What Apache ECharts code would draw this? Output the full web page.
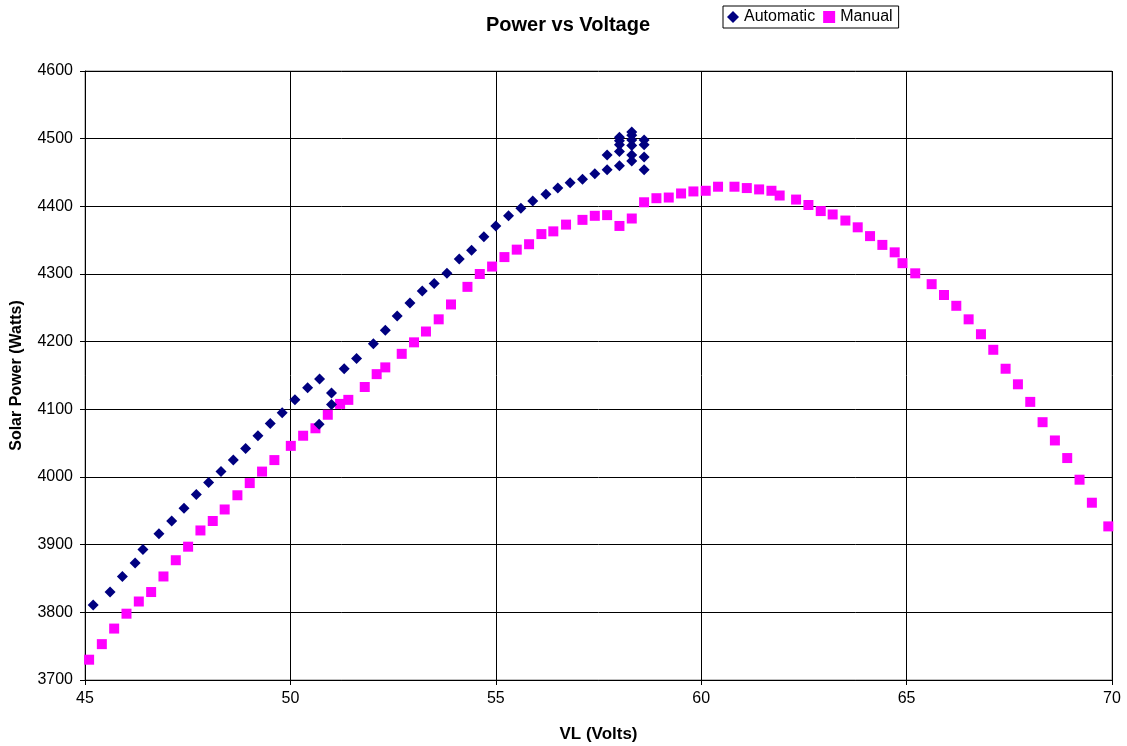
<!DOCTYPE html>
<html><head><meta charset="utf-8">
<script src="https://cdn.jsdelivr.net/npm/echarts@6/dist/echarts.min.js"></script>
<style>html,body{margin:0;padding:0;background:#fff}#c{width:1127px;height:746px}</style>
</head><body><div id="c"></div>
<script>
const autoVL = [45.20,45.61,45.91,46.22,46.41,46.80,47.11,47.41,47.71,48.01,48.31,48.61,48.91,49.21,49.51,49.80,50.11,50.42,50.71,51.00,51.00,50.70,51.31,51.61,52.02,52.31,52.60,52.91,53.21,53.50,53.81,54.11,54.41,54.71,55.00,55.31,55.61,55.90,56.22,56.51,56.81,57.11,57.41,57.71,57.71,58.01,58.01,58.01,58.01,58.01,58.31,58.31,58.31,58.31,58.31,58.31,58.61,58.61,58.61,58.61];
const autoPower = [3811,3830,3853,3873,3893,3916,3935,3954,3974,3992,4008,4025,4042,4061,4079,4095,4114,4132,4145,4124,4107,4078,4160,4175,4197,4217,4238,4257,4275,4286,4301,4322,4335,4355,4371,4386,4397,4408,4418,4427,4435,4440,4448,4454,4476,4460,4481,4491,4497,4502,4467,4476,4490,4498,4505,4510,4454,4473,4491,4498];
const manVL = [45.10,45.41,45.71,46.01,46.31,46.61,46.91,47.21,47.51,47.81,48.11,48.40,48.71,49.01,49.31,49.61,50.01,50.31,50.61,50.91,51.21,51.41,51.81,52.10,52.31,52.71,53.01,53.30,53.61,53.91,54.31,54.61,54.91,55.21,55.51,55.81,56.11,56.40,56.71,57.11,57.41,57.71,58.01,58.31,58.61,58.91,59.21,59.51,59.81,60.11,60.41,60.81,61.11,61.41,61.71,61.91,62.31,62.61,62.91,63.20,63.51,63.81,64.11,64.41,64.71,64.90,65.21,65.61,65.91,66.21,66.51,66.81,67.11,67.41,67.71,68.01,68.31,68.61,68.91,69.21,69.51,69.91];
const manPower = [3730,3753,3776,3798,3816,3830,3853,3877,3897,3921,3935,3952,3973,3991,4008,4025,4046,4061,4072,4092,4108,4114,4133,4152,4162,4182,4199,4215,4233,4255,4281,4300,4311,4325,4336,4344,4359,4363,4373,4380,4386,4387,4371,4382,4406,4412,4413,4419,4422,4423,4429,4429,4427,4425,4423,4416,4410,4402,4393,4388,4379,4369,4356,4343,4332,4316,4301,4285,4269,4253,4233,4211,4188,4160,4137,4111,4081,4054,4028,3996,3962,3927];

const autoData = autoVL.map((v,i)=>[v,autoPower[i]]);
const manData = manVL.map((v,i)=>[v,manPower[i]]);
const F = 'Liberation Sans, Arial, sans-serif';
const chart = echarts.init(document.getElementById('c'));
chart.setOption({
  animation:false,
  backgroundColor:'#fff',
  title:{text:'Power vs Voltage',left:563,top:10,textAlign:'center',textStyle:{fontFamily:F,fontSize:20,fontWeight:'bold',color:'#000'}},
  legend:{left:723,top:6,itemGap:8,itemWidth:12,itemHeight:12,padding:[3,6,3,4],
    borderColor:'#000',borderWidth:1,
    textStyle:{fontFamily:F,fontSize:16,color:'#000'},
    data:[{name:'Automatic',icon:'diamond'},{name:'Manual',icon:'rect'}]},
  grid:{left:85,right:15,top:71,bottom:66,show:true,borderColor:'#808080',borderWidth:1,containLabel:false,outerBoundsMode:'none'},
  xAxis:{type:'value',min:45,max:70,interval:5,
    name:'VL (Volts)',nameLocation:'middle',nameGap:46,nameTextStyle:{fontFamily:F,fontSize:17,fontWeight:'bold',color:'#000'},
    axisLine:{show:true,lineStyle:{color:'#000'}},axisTick:{show:true,length:5,lineStyle:{color:'#000'}},
    axisLabel:{fontFamily:F,fontSize:16,color:'#000',margin:11},
    splitLine:{show:true,lineStyle:{color:'#000',width:1}}},
  yAxis:{type:'value',min:3700,max:4600,interval:100,
    name:'Solar Power (Watts)',nameLocation:'middle',nameGap:60,nameTextStyle:{fontFamily:F,fontSize:16,fontWeight:'bold',color:'#000'},
    axisLine:{show:true,lineStyle:{color:'#000'}},axisTick:{show:true,length:5,lineStyle:{color:'#000'}},
    axisLabel:{fontFamily:F,fontSize:16,color:'#000',margin:12,formatter:v=>String(v)},
    splitLine:{show:true,lineStyle:{color:'#000',width:1}}},
  series:[
    {name:'Automatic',type:'scatter',symbol:'diamond',symbolSize:11,data:autoData,itemStyle:{color:'#000080',opacity:1},z:3},
    {name:'Manual',type:'scatter',symbol:'rect',symbolSize:10,data:manData,itemStyle:{color:'#FF00FF',opacity:1},z:2}
  ]
});
</script></body></html>
